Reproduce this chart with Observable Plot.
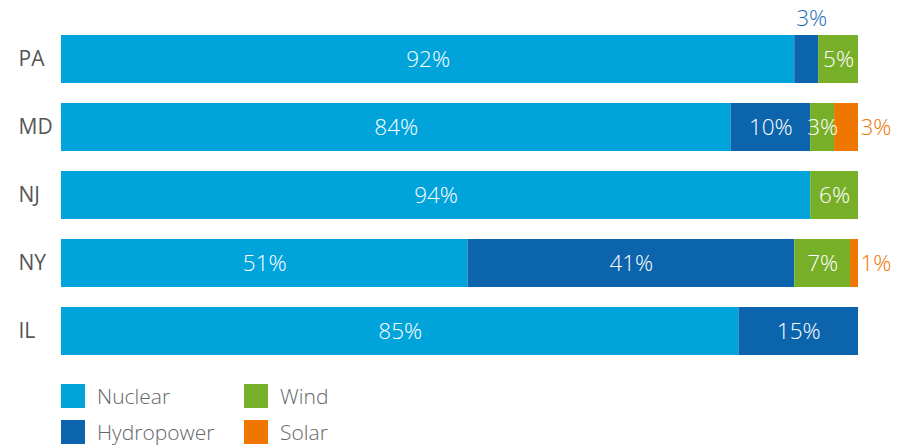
<!DOCTYPE html>
<html>
<head>
<meta charset="utf-8">
<script src="https://cdn.jsdelivr.net/npm/d3@7"></script>
<script src="https://cdn.jsdelivr.net/npm/@observablehq/plot@0.6"></script>
<style>
  html, body { margin: 0; padding: 0; background: #fff; }
  body { width: 911px; height: 445px; overflow: hidden; font-family: "Open Sans", Roboto, sans-serif; }
  #legend { display: grid; grid-template-columns: 183px 200px; row-gap: 12px; margin-left: 61px; margin-top: 14px; }
  .item { display: flex; align-items: center; height: 24px; font-size: 21px; font-weight: 300; color: #666; line-height: 24px; }
  .sw { width: 24px; height: 24px; margin-right: 12px; flex: none; }
</style>
</head>
<body>
<div id="chart"></div>
<div id="legend"></div>
<script>
const states = ["PA", "MD", "NJ", "NY", "IL"];
const sources = ["Nuclear", "Hydropower", "Wind", "Solar"];
const nuclear = [92, 84, 94, 51, 85];
const hydropower = [3, 10, 0, 41, 15];
const wind = [5, 3, 6, 7, 0];
const solar = [0, 3, 0, 1, 0];
const colors = ["#00a4db", "#0c64ad", "#78af29", "#ef7700"];
const legendOrder = ["Nuclear", "Wind", "Hydropower", "Solar"];

const series = [nuclear, hydropower, wind, solar];
const rows = [];
states.forEach((s, i) => {
  sources.forEach((src, j) => {
    const v = series[j][i];
    if (v > 0) rows.push({state: s, source: src, value: v});
  });
});

// label placement rule: small hydropower labels go above, solar labels go right, others inside
const placement = d => d.source === "Solar" ? "right" : (d.source === "Hydropower" && d.value < 5 ? "above" : "inside");
const labelFor = where => d => placement(d) === where ? d.value + "%" : null;

const stackOpts = {x: "value", y: "state", z: "source", order: sources};
const labelFont = {fontSize: 22.5, fontWeight: 300, fontFamily: "'Open Sans', Roboto, sans-serif"};

const chart = Plot.plot({
  width: 911,
  height: 370,
  marginLeft: 61,
  marginRight: 53,
  marginTop: 0,
  marginBottom: 0,
  style: {fontFamily: "'Open Sans', Roboto, sans-serif", background: "#fff"},
  x: {domain: [0, 100], axis: null},
  y: {domain: states, range: [25, 365], paddingInner: 20 / 68, paddingOuter: 10 / 68, axis: null},
  color: {domain: sources, range: colors},
  marks: [
    Plot.barX(rows, Plot.stackX({...stackOpts, fill: "source"})),
    Plot.text(rows, Plot.stackX({
      ...stackOpts,
      ...labelFont,
      text: labelFor("inside"),
      fill: "white"
    })),
    Plot.text(rows, Plot.stackX({
      ...stackOpts,
      ...labelFont,
      text: labelFor("above"),
      fill: "#1a6db3",
      dx: 5,
      dy: -41
    })),
    Plot.text(rows, Plot.stackX2({
      ...stackOpts,
      ...labelFont,
      text: labelFor("right"),
      fill: "#ef7700",
      textAnchor: "start",
      dx: 2
    })),
    Plot.text(states, {
      y: d => d,
      text: d => d,
      frameAnchor: "left",
      textAnchor: "start",
      dx: -43,
      fill: "#555",
      fontSize: 21,
      fontWeight: 500
    })
  ]
});
document.getElementById("chart").appendChild(chart);

const legend = document.getElementById("legend");
legendOrder.forEach(name => {
  const item = document.createElement("div");
  item.className = "item";
  const sw = document.createElement("span");
  sw.className = "sw";
  sw.style.background = colors[sources.indexOf(name)];
  item.appendChild(sw);
  const t = document.createElement("span");
  t.textContent = name;
  item.appendChild(t);
  legend.appendChild(item);
});
</script>
</body>
</html>
